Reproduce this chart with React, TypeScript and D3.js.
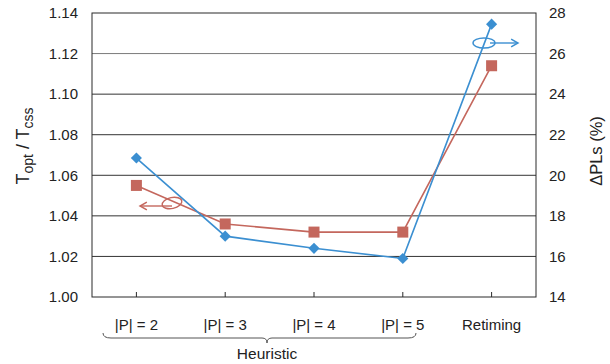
import { useRef, useEffect } from 'react';
import * as d3 from 'd3';

const categories = ['|P| = 2', '|P| = 3', '|P| = 4', '|P| = 5', 'Retiming'];
// left axis: Topt / Tcss (red squares)
const ratioValues = [1.055, 1.036, 1.032, 1.032, 1.114];
// right axis: ΔPLs % (blue diamonds)
const plsValues = [20.85, 17.0, 16.4, 15.9, 27.45];
const leftTicks = [1.0, 1.02, 1.04, 1.06, 1.08, 1.1, 1.12, 1.14];
const rightTicks = [14, 16, 18, 20, 22, 24, 26, 28];

const BLUE = '#3b8fd1';
const RED = '#c4675d';
const FONT = 'Liberation Sans, Arial, sans-serif';

const App = () => {
  const svgRef = useRef<SVGSVGElement>(null);

  useEffect(() => {
    const svg = d3.select(svgRef.current);
    svg.selectAll('*').remove();
    const width = 610;
    const height = 364;
    const margin = { top: 13, right: 74, bottom: 67, left: 92 };

    const x = d3.scalePoint<string>()
      .domain(categories)
      .range([margin.left, width - margin.right])
      .padding(0.5);

    const yL = d3.scaleLinear().domain([1.0, 1.14]).range([height - margin.bottom, margin.top]);
    const yR = d3.scaleLinear().domain([14, 28]).range([height - margin.bottom, margin.top]);

    // gridlines
    svg.append('g')
      .selectAll('line')
      .data(leftTicks.slice(1, -1))
      .join('line')
      .attr('x1', margin.left)
      .attr('x2', width - margin.right)
      .attr('y1', d => yL(d))
      .attr('y2', d => yL(d))
      .attr('stroke', d => (d > 1.11 ? '#7a7a7a' : '#333'))
      .attr('stroke-width', 1);

    // frame
    svg.append('rect')
      .attr('x', margin.left)
      .attr('y', margin.top)
      .attr('width', width - margin.left - margin.right)
      .attr('height', height - margin.top - margin.bottom)
      .attr('fill', 'none')
      .attr('stroke', '#2a2a2a')
      .attr('stroke-width', 1);

    // category ticks
    svg.append('g')
      .selectAll('line')
      .data(categories)
      .join('line')
      .attr('x1', d => x(d)!)
      .attr('x2', d => x(d)!)
      .attr('y1', height - margin.bottom)
      .attr('y2', height - margin.bottom - 5)
      .attr('stroke', '#2a2a2a');

    // left tick labels
    svg.append('g')
      .selectAll('text')
      .data(leftTicks)
      .join('text')
      .attr('x', 78)
      .attr('y', d => yL(d))
      .attr('dy', '0.35em')
      .attr('text-anchor', 'end')
      .attr('font-family', FONT)
      .attr('font-size', 15)
      .attr('fill', '#222')
      .text(d => d.toFixed(2));

    // right tick labels
    svg.append('g')
      .selectAll('text')
      .data(rightTicks)
      .join('text')
      .attr('x', 549)
      .attr('y', d => yR(d))
      .attr('dy', '0.35em')
      .attr('font-family', FONT)
      .attr('font-size', 15)
      .attr('fill', '#222')
      .text(d => d);

    // category labels
    svg.append('g')
      .selectAll('text')
      .data(categories)
      .join('text')
      .attr('x', d => x(d)!)
      .attr('y', 330)
      .attr('text-anchor', 'middle')
      .attr('font-family', FONT)
      .attr('font-size', 15)
      .attr('fill', '#222')
      .text(d => d);

    // brace under heuristic categories
    const bx0 = 103, bx1 = 416, by = 333, mid = 267;
    svg.append('path')
      .attr('d', `M${bx0},${by} Q${bx0},${by + 5} ${bx0 + 8},${by + 5} L${mid - 5},${by + 5} Q${mid},${by + 5} ${mid},${by + 10} Q${mid},${by + 5} ${mid + 5},${by + 5} L${bx1 - 8},${by + 5} Q${bx1},${by + 5} ${bx1},${by}`)
      .attr('fill', 'none')
      .attr('stroke', '#555')
      .attr('stroke-width', 1);
    svg.append('text')
      .attr('x', mid)
      .attr('y', 359)
      .attr('text-anchor', 'middle')
      .attr('font-family', FONT)
      .attr('font-size', 15.5)
      .attr('fill', '#222')
      .text('Heuristic');

    // axis titles
    const lt = svg.append('text')
      .attr('transform', 'translate(29,146) rotate(-90)')
      .attr('text-anchor', 'middle')
      .attr('font-family', FONT)
      .attr('font-size', 18)
      .attr('fill', '#222');
    lt.append('tspan').text('T');
    lt.append('tspan').attr('font-size', 14).attr('dy', 4).text('opt');
    lt.append('tspan').attr('dy', -4).text(' / T');
    lt.append('tspan').attr('font-size', 14).attr('dy', 4).text('css');

    svg.append('text')
      .attr('transform', 'translate(596,151) rotate(-90)')
      .attr('dy', '0.35em')
      .attr('text-anchor', 'middle')
      .attr('font-family', FONT)
      .attr('font-size', 16.5)
      .attr('fill', '#222')
      .text('ΔPLs (%)');

    const line = d3.line<number>().x((_, i) => x(categories[i])!);

    // red series
    svg.append('path')
      .datum(ratioValues)
      .attr('d', line.y(d => yL(d)))
      .attr('fill', 'none')
      .attr('stroke', RED)
      .attr('stroke-width', 1.6);
    svg.append('g')
      .selectAll('rect')
      .data(ratioValues)
      .join('rect')
      .attr('x', (_, i) => x(categories[i])! - 5.5)
      .attr('y', d => yL(d) - 5.5)
      .attr('width', 11)
      .attr('height', 11)
      .attr('fill', RED);

    // blue series
    svg.append('path')
      .datum(plsValues)
      .attr('d', d3.line<number>().x((_, i) => x(categories[i])!).y(d => yR(d)))
      .attr('fill', 'none')
      .attr('stroke', BLUE)
      .attr('stroke-width', 1.6);
    svg.append('g')
      .selectAll('path')
      .data(plsValues)
      .join('path')
      .attr('transform', (d, i) => `translate(${x(categories[i])},${yR(d)}) rotate(45)`)
      .attr('d', d3.symbol(d3.symbolSquare, 62)())
      .attr('fill', BLUE);

    // annotation arrows
    const arrow = (id: string, color: string) => {
      svg.append('defs').append('marker')
        .attr('id', id)
        .attr('viewBox', '0 0 10 10')
        .attr('refX', 8)
        .attr('refY', 5)
        .attr('markerWidth', 7)
        .attr('markerHeight', 7)
        .attr('orient', 'auto')
        .append('path')
        .attr('d', 'M1,1 L8,5 L1,9')
        .attr('fill', 'none')
        .attr('stroke', color)
        .attr('stroke-width', 1.5);
    };
    arrow('arrRed', RED);
    arrow('arrBlue', BLUE);

    // red -> left axis
    svg.append('ellipse')
      .attr('cx', 172).attr('cy', 203).attr('rx', 10).attr('ry', 5.5)
      .attr('transform', 'rotate(-12,172,203)')
      .attr('fill', 'none').attr('stroke', RED).attr('stroke-width', 1.4);
    svg.append('line')
      .attr('x1', 172).attr('y1', 206).attr('x2', 140).attr('y2', 206)
      .attr('stroke', RED).attr('stroke-width', 1.4)
      .attr('marker-end', 'url(#arrRed)');

    // blue -> right axis
    svg.append('ellipse')
      .attr('cx', 484).attr('cy', 43).attr('rx', 11).attr('ry', 5)
      .attr('fill', 'none').attr('stroke', BLUE).attr('stroke-width', 1.4);
    svg.append('line')
      .attr('x1', 490).attr('y1', 43).attr('x2', 518).attr('y2', 43)
      .attr('stroke', BLUE).attr('stroke-width', 1.4)
      .attr('marker-end', 'url(#arrBlue)');
  }, []);

  return (
    <svg
      ref={svgRef}
      width={610}
      height={364}
      style={{ position: 'absolute', left: 0, top: 0, background: '#fff' }}
    />
  );
};

export default App;
